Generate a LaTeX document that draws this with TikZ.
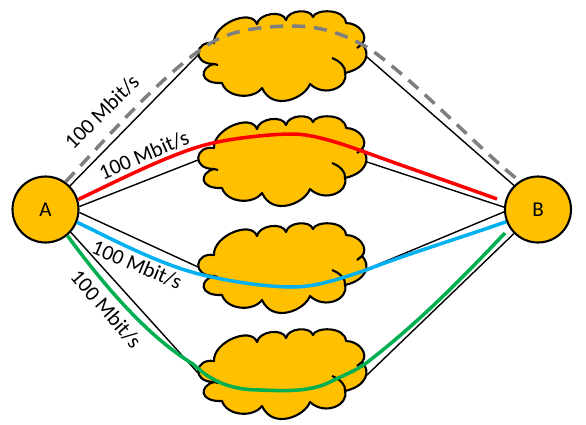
\documentclass[tikz,border=0pt]{standalone}
\usepackage{fontspec}
\setmainfont{Carlito}
\usepackage{xcolor}

\definecolor{cloudfill}{HTML}{FFC000}
\definecolor{pathgray}{HTML}{7F7F7F}
\definecolor{pathblue}{HTML}{00B0F0}
\definecolor{pathgreen}{HTML}{00B050}

\tikzset{
    host/.style={circle, draw=black, fill=cloudfill, line width=1.2pt, minimum size=1.32cm, inner sep=0pt, font=\fontsize{12}{14}\selectfont},
    rate/.style={font=\fontsize{12.2}{14}\selectfont, inner sep=0pt},
    link/.style={black, line width=0.8pt},
    flow/.style={line width=2pt},
    pics/netcloud/.style={code={
        \draw[fill=cloudfill, line width=1.2pt, line join=round]
            (-69,-13)
            .. controls (-70,-32) and (-32,-48) .. (-26,-32)
            .. controls (-24,-43) and (0,-46) .. (3,-36)
            .. controls (5,-46) and (27,-48) .. (30,-39)
            .. controls (32,-47) and (62,-48) .. (63,-33)
            .. controls (76,-33) and (86,-20) .. (79,-12)
            .. controls (88,-3) and (84,12) .. (62,17)
            .. controls (66,31) and (42,42) .. (27,28)
            .. controls (22,42) and (-10,56) .. (-21,32)
            .. controls (-30,44) and (-56,42) .. (-61,27)
            .. controls (-84,28) and (-84,12) .. (-69,8)
            .. controls (-92,8) and (-88,-16) .. (-69,-13) -- cycle;
        % marcas interiores
        \draw[line width=1.2pt] (-69,8) -- (-65,9);
        \draw[line width=1.2pt] (49,2) .. controls (57,5) and (63,11) .. (62,17);
        \draw[line width=1.2pt] (79,-12) -- (74,-8);
        \coordinate (-w) at (-85,-1);
        \coordinate (-e) at (84,1);
    }}
}

\begin{document}
\begin{tikzpicture}[x=0.02cm, y=-0.02cm]
    \useasboundingbox (0,0) rectangle (586,424);

    % extremos
    \node[host] (A) at (45.5,209.5) {A};
    \node[host] (B) at (538,209.5) {B};

    % nubes
    \pic (c1) at (283,56) {netcloud};
    \pic (c2) at (283,161) {netcloud};
    \pic (c3) at (283,268) {netcloud};
    \pic (c4) at (283,374) {netcloud};

    % lineas finas
    \draw[link] (A.44) -- (c1-w);
    \draw[link] (A.5) -- (c2-w);
    \draw[link] (A.-5) -- (c3-w);
    \draw[link] (A.-42) -- (c4-w);
    \draw[link] (c1-e) -- (B.135);
    \draw[link] (c2-e) -- (B.176);
    \draw[link] (c3-e) -- (B.184);
    \draw[link] (c4-e) -- (B.225);

    % extremos libres
    \coordinate (redend) at (497,199);
    \coordinate (greenend) at (505,233);

    % gris
    \draw[flow, pathgray, dash pattern=on 7.5pt off 5pt] (A.54) .. controls (105,140) and (170,65) .. (216,40)
        .. controls (235,30) and (265,26) .. (293,26)
        .. controls (325,26) and (350,37) .. (370,49)
        .. controls (420,85) and (480,150) .. (B.123);
    % rojo
    \draw[flow, red] (A.17) .. controls (113,183) and (175,151) .. (213,143)
        .. controls (235,138) and (270,134) .. (293,134)
        .. controls (312,134) and (340,143) .. (362,151)
        .. controls (400,165) and (450,182) .. (redend);
    % azul
    \draw[flow, pathblue] (A.-22) .. controls (110,238) and (160,265) .. (203,275)
        .. controls (228,281) and (265,287) .. (293,287)
        .. controls (315,287) and (340,279) .. (366,270)
        .. controls (410,253) and (460,238) .. (B.201);
    % verde
    \draw[flow, pathgreen] (A.-50) .. controls (100,280) and (145,335) .. (193,364)
        .. controls (207,377) and (225,390) .. (260,390)
        .. controls (285,391) and (310,392) .. (330,382)
        .. controls (342,376) and (353,372) .. (365,364)
        .. controls (420,322) and (465,275) .. (greenend);

    % etiquetas
    \node[rate, rotate=45] (rate1) at (102,112) {100 Mbit/s};
    \node[rate, rotate=23] (rate2) at (144,155) {100 Mbit/s};
    \node[rate, rotate=-23] (rate3) at (137,265) {100 Mbit/s};
    \node[rate, rotate=-49] (rate4) at (106,309) {100 Mbit/s};
\end{tikzpicture}
\end{document}
